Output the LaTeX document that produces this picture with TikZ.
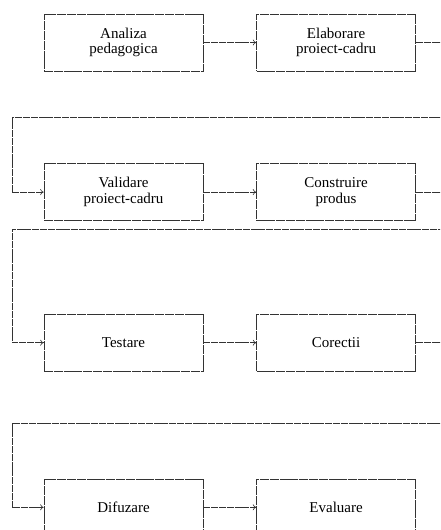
\documentclass[tikz,border=0pt]{standalone}
\usepackage{fontspec}
\setmainfont{Liberation Serif}
\usetikzlibrary{positioning,arrows.meta}

\begin{document}
\begin{tikzpicture}[
    x=1pt, y=1pt,
    >={To[length=3.5pt,width=6pt]},
    font=\fontsize{15}{15.5}\selectfont,
    stage/.style={
		rectangle,
		draw=black!80,
		line width=0.6pt,
		dash pattern=on 9pt off 0.8pt,
		align=center,
		inner sep=0pt,
		minimum height=57pt,
		minimum width=159pt,
		fill=white
	},
	flow/.style={
		draw=black!80,
		line width=0.6pt,
		dash pattern=on 7pt off 0.8pt,
		->
	}
  ]

 \useasboundingbox (0,0) rectangle (440,-530);
 \clip (0,0) rectangle (440,-530);

% // first row
 \node [stage] (analiza) at (123.5,-42.5) {Analiza\\pedagogica};
 \node [stage, right=53pt of analiza] (elaborare) {Elaborare\\proiect-cadru};

% // second row
 \node [stage, below=92pt of analiza] (validare) {Validare\\proiect-cadru};
 \node [stage, right=53pt of validare] (construire) {Construire\\produs};

% // third row
 \node [stage, below=93pt of validare] (testare) {Testare};
 \node [stage, right=53pt of testare] (corectii) {Corectii};

% // fourth row
 \node [stage, below=107pt of testare] (difuzare) {Difuzare};
 \node [stage, right=53pt of difuzare] (evaluare) {Evaluare};

% return lines
 \coordinate (back1) at (447,-117);
 \coordinate (side1) at (12,-117);
 \coordinate (back2) at (447,-229);
 \coordinate (side2) at (12,-229);
 \coordinate (back3) at (447,-423);
 \coordinate (side3) at (12,-423);

 \draw [flow] (analiza) -- (elaborare);
 \draw [flow] (elaborare.east) -| (back1) -- (side1) |- (validare.west);
 \draw [flow] (validare) -- (construire);
 \draw [flow] (construire.east) -| (back2) -- (side2) |- (testare.west);
 \draw [flow] (testare) -- (corectii);
 \draw [flow] (corectii.east) -| (back3) -- (side3) |- (difuzare.west);
 \draw [flow] (difuzare) -- (evaluare);

\end{tikzpicture}
\end{document}
